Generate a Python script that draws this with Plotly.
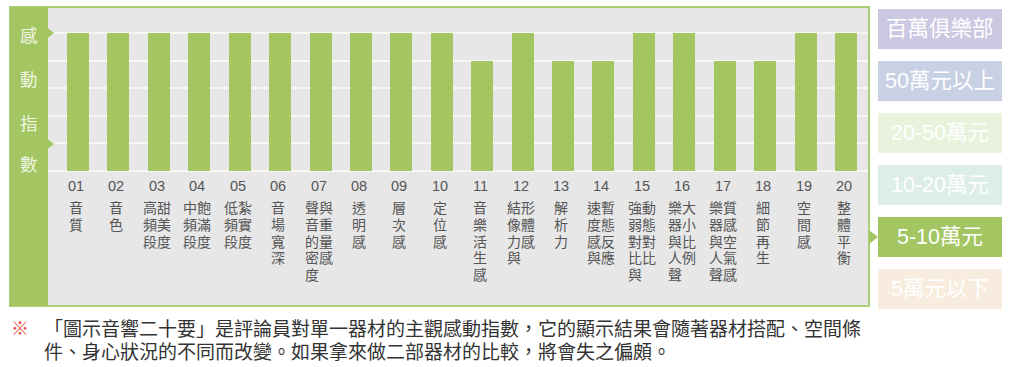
import plotly.graph_objects as go

# ---------------- data ----------------
categories = ["01", "02", "03", "04", "05", "06", "07", "08", "09", "10",
              "11", "12", "13", "14", "15", "16", "17", "18", "19", "20"]
values = [5, 5, 5, 5, 5, 5, 5, 5, 5, 5,
          4, 5, 4, 4, 5, 5, 4, 4, 5, 5]
# item names, rows separated by "|" (rows as printed under each bar)
item_names = ["音|質", "音|色", "高甜|頻美|段度", "中飽|頻滿|段度", "低紮|頻實|段度",
              "音|場|寬|深", "聲與|音重|的量|密感|度　", "透|明|感", "層|次|感", "定|位|感",
              "音|樂|活|生|感", "結形|像體|力感|與　", "解|析|力", "速暫|度態|感反|與應",
              "強動|弱態|對對|比比|與　", "樂大|器小|與比|人例|聲　", "樂質|器感|與空|人氣|聲感",
              "細|節|再|生", "空|間|感", "整|體|平|衡"]
axis_title_chars = ["感", "動", "指", "數"]
tiers = ["百萬俱樂部", "50萬元以上", "20-50萬元", "10-20萬元", "5-10萬元", "5萬元以下"]
tier_colors = ["#cbc9e2", "#c8d0e4", "#e9f2dc", "#ddeee8", "#a3c662", "#f7ecdd"]
active_tier = "5-10萬元"
note_mark = "※"
note_lines = ["「圖示音響二十要」是評論員對單一器材的主觀感動指數，它的顯示結果會隨著器材搭配、空間條",
              "件、身心狀況的不同而改變。如果拿來做二部器材的比較，將會失之偏頗。"]

# ---------------- layout helpers ----------------
W, H = 1024, 367
def fx(x):
    return x / W
def fy(y):
    return 1 - y / H

GREEN = "#a3c662"
GREY = "#e7e7e8"
CJK = "Noto Sans CJK TC"

# plot area in pixels
PX0, PX1, PY0, PY1 = 48, 868, 9, 171
first_center, pitch = 78.0, 40.42
x_range = [(PX0 - first_center) / pitch, (PX1 - first_center) / pitch]
y_max = 5.87

fig = go.Figure()
fig.add_trace(go.Bar(x=categories, y=values, marker_color=GREEN,
                     marker_line_width=0, width=0.545, hoverinfo="skip"))

shapes = []
# panel background
shapes.append(dict(type="rect", xref="paper", yref="paper",
                   x0=fx(10), x1=fx(869), y0=fy(306), y1=fy(7),
                   fillcolor=GREY, line=dict(color="#abcf75", width=2), layer="below"))
# left green band
shapes.append(dict(type="rect", xref="paper", yref="paper",
                   x0=fx(10), x1=fx(48), y0=fy(306), y1=fy(7),
                   fillcolor=GREEN, line=dict(width=0), layer="above"))
# notches
for yc in (33, 144):
    shapes.append(dict(type="path", xref="paper", yref="paper",
                       path=f"M {fx(47.5)},{fy(yc-5)} L {fx(54)},{fy(yc)} L {fx(47.5)},{fy(yc+5)} Z",
                       fillcolor=GREEN, line=dict(width=0), layer="above"))
# legend boxes
box_top0, box_step, box_h = 9, 52, 40
annotations = []
for i, (t, c) in enumerate(zip(tiers, tier_colors)):
    top = box_top0 + i * box_step
    shapes.append(dict(type="rect", xref="paper", yref="paper",
                       x0=fx(878), x1=fx(1002), y0=fy(top + box_h), y1=fy(top),
                       fillcolor=c, line=dict(width=0), layer="below"))
    annotations.append(dict(x=fx(940), y=fy(top + box_h / 2), xref="paper", yref="paper",
                            text=t, showarrow=False, xanchor="center", yanchor="middle",
                            font=dict(family="Liberation Sans, " + CJK, size=21.5, color="#ffffff")))
    if t == active_tier:
        yc = top + box_h / 2
        shapes.append(dict(type="path", xref="paper", yref="paper",
                           path=f"M {fx(869)},{fy(yc-7)} L {fx(878)},{fy(yc)} L {fx(869)},{fy(yc+7)} Z",
                           fillcolor=GREEN, line=dict(width=0), layer="above"))

# vertical axis title in the green band
for ch, yc in zip(axis_title_chars, (35, 78, 122, 163)):
    annotations.append(dict(x=fx(29), y=fy(yc), xref="paper", yref="paper", text=ch,
                            showarrow=False, xanchor="center", yanchor="middle",
                            font=dict(family=CJK, size=17.5, color="#eef6e2")))

# category numbers and names (x given as category index on the category axis)
for idx, (cat, name) in enumerate(zip(categories, item_names)):
    annotations.append(dict(x=idx, y=fy(186), xref="x", yref="paper", text=cat,
                            showarrow=False, xanchor="center", yanchor="middle", xshift=-2,
                            font=dict(family="Liberation Sans", size=14.5, color="#555555")))
    for k, row in enumerate(name.split("|")):
        annotations.append(dict(x=idx, y=fy(207 + 16.8 * k), xref="x", yref="paper", text=row,
                                showarrow=False, xanchor="center", yanchor="middle", xshift=-2,
                                font=dict(family=CJK, size=14, color="#555555")))

# note
annotations.append(dict(x=fx(20), y=fy(327), xref="paper", yref="paper", text=note_mark,
                        showarrow=False, xanchor="center", yanchor="middle",
                        font=dict(family=CJK, size=18, color="#e04a40")))
for k, line in enumerate(note_lines):
    annotations.append(dict(x=fx(42), y=fy(327 + 23.5 * k), xref="paper", yref="paper", text=line,
                            showarrow=False, xanchor="left", yanchor="middle",
                            font=dict(family=CJK, size=19, color="#333333")))

fig.update_layout(
    width=W, height=H, margin=dict(l=0, r=0, t=0, b=0),
    paper_bgcolor="#ffffff", plot_bgcolor="rgba(0,0,0,0)",
    showlegend=False, bargap=0,
    xaxis=dict(domain=[fx(PX0), fx(PX1)], range=x_range, type="category",
               categoryorder="array", categoryarray=categories,
               showticklabels=False, showgrid=False, zeroline=False, showline=False, ticks=""),
    yaxis=dict(domain=[fy(PY1), fy(PY0)], range=[0, y_max], dtick=1,
               showticklabels=False, showgrid=True, gridcolor="#f7f9f1", gridwidth=2,
               zeroline=True, zerolinecolor="#f7f9f1", zerolinewidth=2, showline=False, ticks=""),
    shapes=shapes, annotations=annotations,
)

fig.write_html("out.html", config={"displayModeBar": False},
               post_script="document.body.style.margin='0px';")
